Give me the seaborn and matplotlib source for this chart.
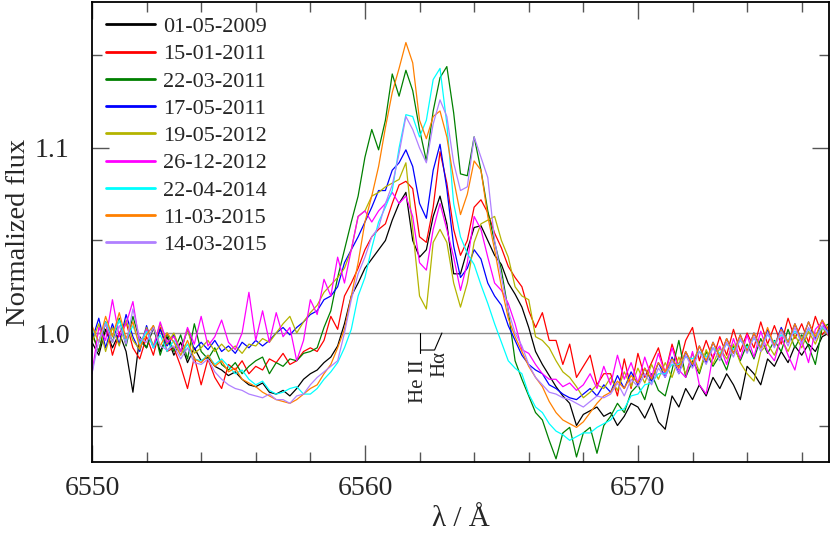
import numpy as np
import pandas as pd
import matplotlib
matplotlib.use("Agg")
import matplotlib.pyplot as plt
import seaborn as sns

# wavelength grid of the spectra (Angstrom)
wavelength = np.arange(6550.0, 6577.001, 0.25)

dates = ["01-05-2009", "15-01-2011", "22-03-2011", "17-05-2011", "19-05-2012",
         "26-12-2012", "22-04-2014", "11-03-2015", "14-03-2015"]
colors = ["#000000", "#ff0000", "#008000", "#0000ff", "#b4b400",
          "#ff00ff", "#00ffff", "#ff8000", "#b080ff"]

flux_2009_05_01 = [
    0.995, 0.988, 1.002, 0.992, 1.000, 0.990, 0.968, 0.998, 0.992, 1.003, 0.990, 0.998,
    0.988, 0.995, 0.984, 0.992, 0.985, 0.987, 0.982, 0.980, 0.977, 0.979, 0.975, 0.972,
    0.971, 0.973, 0.968, 0.967, 0.969, 0.966, 0.970, 0.975, 0.978, 0.980, 0.984, 0.987,
    0.993, 1.005, 1.020, 1.027, 1.035, 1.040, 1.045, 1.050, 1.061, 1.070, 1.076, 1.050,
    1.041, 1.045, 1.063, 1.074, 1.059, 1.032, 1.032, 1.045, 1.057, 1.058, 1.050, 1.042,
    1.037, 1.027, 1.021, 1.014, 1.003, 0.990, 0.983, 0.977, 0.971, 0.966, 0.962, 0.950,
    0.956, 0.958, 0.960, 0.955, 0.957, 0.950, 0.955, 0.962, 0.960, 0.954, 0.962, 0.952,
    0.948, 0.966, 0.960, 0.970, 0.964, 0.972, 0.966, 0.976, 0.970, 0.978, 0.972, 0.964,
    0.982, 0.978, 0.972, 0.986, 0.982, 0.990, 0.984, 0.993, 0.988, 0.994, 0.990, 0.998,
    1.000]
flux_2011_01_15 = [
    1.000, 0.990, 1.006, 0.988, 1.000, 1.006, 0.992, 0.986, 0.998, 0.988, 1.003, 0.990,
    0.992, 0.982, 0.970, 0.987, 0.972, 0.986, 0.976, 0.970, 0.983, 0.980, 0.985, 0.978,
    0.982, 0.980, 0.986, 0.984, 0.989, 0.983, 0.985, 0.990, 0.992, 0.990, 0.996, 1.009,
    1.002, 1.020, 1.027, 1.035, 1.045, 1.052, 1.056, 1.059, 1.070, 1.080, 1.082, 1.078,
    1.052, 1.049, 1.068, 1.098, 1.081, 1.056, 1.042, 1.050, 1.068, 1.072, 1.065, 1.054,
    1.046, 1.036, 1.030, 1.025, 1.012, 1.003, 1.011, 0.996, 0.996, 0.983, 0.994, 0.976,
    0.982, 0.988, 0.972, 0.978, 0.978, 0.966, 0.986, 0.970, 0.989, 0.976, 0.984, 0.992,
    0.978, 0.994, 0.982, 0.996, 1.003, 0.985, 0.996, 0.986, 0.998, 0.988, 1.002, 0.990,
    1.000, 0.992, 1.006, 0.994, 1.004, 0.994, 1.008, 0.997, 1.005, 0.995, 1.009, 0.999,
    1.004]
flux_2011_03_22 = [
    1.000, 0.990, 1.006, 0.995, 1.008, 0.993, 1.009, 0.996, 0.992, 1.004, 0.988, 1.000,
    0.990, 0.999, 0.986, 1.005, 0.990, 0.986, 0.992, 0.983, 0.980, 0.984, 0.978, 0.982,
    0.985, 0.987, 0.978, 0.984, 0.982, 0.986, 0.985, 0.989, 0.990, 0.992, 1.003, 1.012,
    1.030, 1.045, 1.060, 1.074, 1.095, 1.110, 1.099, 1.115, 1.140, 1.128, 1.142, 1.131,
    1.110, 1.093, 1.120, 1.138, 1.144, 1.119, 1.086, 1.085, 1.106, 1.088, 1.066, 1.049,
    1.034, 1.012, 0.985, 0.975, 0.966, 0.957, 0.953, 0.942, 0.932, 0.946, 0.949, 0.933,
    0.946, 0.949, 0.935, 0.950, 0.955, 0.962, 0.957, 0.968, 0.972, 0.964, 0.978, 0.969,
    0.966, 0.980, 0.996, 0.976, 0.985, 0.978, 0.990, 0.982, 0.988, 0.980, 0.993, 0.985,
    0.994, 0.986, 0.997, 0.989, 0.996, 0.990, 1.002, 0.992, 0.999, 0.993, 0.983, 1.003,
    1.005]
flux_2011_05_17 = [
    0.996, 1.008, 0.992, 1.005, 0.994, 1.010, 0.998, 0.990, 1.004, 0.992, 1.002, 0.993,
    0.999, 0.990, 1.002, 0.991, 0.995, 0.991, 0.996, 0.990, 0.993, 0.989, 0.995, 0.992,
    0.996, 0.993, 0.996, 1.000, 1.003, 0.999, 1.003, 1.006, 1.010, 1.012, 1.018, 1.020,
    1.025, 1.038, 1.045, 1.052, 1.060, 1.068, 1.077, 1.077, 1.088, 1.092, 1.099, 1.090,
    1.070, 1.062, 1.088, 1.102, 1.078, 1.047, 1.030, 1.035, 1.045, 1.040, 1.027, 1.020,
    1.015, 1.004, 0.996, 0.988, 0.983, 0.980, 0.978, 0.972, 0.970, 0.967, 0.965, 0.964,
    0.967, 0.970, 0.966, 0.972, 0.968, 0.977, 0.970, 0.979, 0.972, 0.981, 0.974, 0.984,
    0.976, 0.987, 0.978, 0.990, 0.982, 0.993, 0.984, 0.995, 0.987, 0.997, 0.989, 0.999,
    0.990, 1.000, 0.992, 1.002, 0.993, 1.003, 0.995, 1.005, 0.996, 1.006, 0.997, 1.007,
    0.999]
flux_2012_05_19 = [
    0.995, 1.005, 0.990, 1.003, 0.993, 1.007, 0.996, 0.991, 1.003, 0.993, 1.005, 0.994,
    1.000, 0.990, 1.002, 0.989, 0.992, 0.996, 0.990, 0.994, 0.990, 0.993, 0.989, 0.994,
    0.993, 0.997, 0.995, 1.000, 1.005, 1.009, 1.000, 1.006, 1.011, 1.015, 1.022, 1.026,
    1.030, 1.035, 1.045, 1.063, 1.066, 1.074, 1.076, 1.079, 1.081, 1.083, 1.092, 1.056,
    1.020, 1.013, 1.049, 1.056, 1.049, 1.027, 1.014, 1.027, 1.049, 1.059, 1.061, 1.063,
    1.050, 1.041, 1.025, 1.020, 1.018, 0.998, 0.996, 0.992, 0.985, 0.979, 0.976, 0.971,
    0.965, 0.968, 0.972, 0.970, 0.976, 0.969, 0.979, 0.971, 0.981, 0.973, 0.983, 0.975,
    0.984, 0.976, 0.987, 0.978, 0.989, 0.979, 0.991, 0.983, 0.992, 0.986, 0.994, 0.984,
    0.978, 0.974, 0.990, 0.994, 0.988, 0.997, 0.990, 0.999, 0.992, 1.001, 0.994, 1.003,
    0.998]
flux_2012_12_26 = [
    0.978, 1.003, 0.996, 1.018, 0.998, 1.005, 1.017, 0.994, 1.002, 0.992, 1.006, 0.995,
    0.998, 0.990, 1.003, 0.994, 1.009, 0.993, 0.998, 1.007, 0.995, 0.991, 1.000, 1.022,
    0.996, 1.012, 0.995, 1.011, 0.998, 1.003, 0.985, 0.996, 1.018, 1.010, 1.029, 1.020,
    1.041, 1.027, 1.045, 1.063, 1.066, 1.060, 1.066, 1.070, 1.076, 1.070, 1.074, 1.063,
    1.038, 1.034, 1.056, 1.070, 1.056, 1.041, 1.023, 1.038, 1.063, 1.056, 1.041, 1.027,
    1.023, 1.016, 1.005, 0.991, 0.989, 0.983, 0.978, 0.975, 0.975, 0.971, 0.973, 0.969,
    0.972, 0.978, 0.970, 0.982, 0.972, 0.988, 0.975, 0.984, 0.973, 0.987, 0.976, 0.989,
    0.978, 0.992, 0.980, 0.976, 0.990, 0.972, 0.967, 0.988, 0.993, 0.983, 0.997, 0.986,
    0.999, 0.987, 1.001, 0.990, 0.985, 0.998, 0.988, 0.980, 0.996, 0.984, 1.002, 1.006,
    0.998]
flux_2014_04_22 = [
    1.003, 0.995, 1.006, 0.998, 1.007, 0.996, 1.004, 0.994, 1.001, 0.992, 0.999, 0.990,
    0.996, 0.988, 0.994, 0.986, 0.985, 0.988, 0.983, 0.986, 0.982, 0.978, 0.980, 0.975,
    0.972, 0.974, 0.969, 0.967, 0.968, 0.970, 0.971, 0.967, 0.967, 0.970, 0.975, 0.979,
    0.984, 0.992, 1.002, 1.020, 1.030, 1.046, 1.060, 1.068, 1.077, 1.100, 1.118, 1.117,
    1.106, 1.115, 1.137, 1.143, 1.113, 1.070, 1.052, 1.043, 1.037, 1.026, 1.016, 1.005,
    0.995, 0.985, 0.981, 0.978, 0.967, 0.960, 0.957, 0.951, 0.947, 0.945, 0.942, 0.944,
    0.946, 0.946, 0.949, 0.951, 0.953, 0.958, 0.959, 0.966, 0.967, 0.972, 0.973, 0.978,
    0.978, 0.983, 0.983, 0.987, 0.986, 0.990, 0.987, 0.992, 0.989, 0.994, 0.991, 0.996,
    0.992, 0.997, 0.993, 0.999, 0.995, 0.999, 0.996, 1.001, 0.997, 1.002, 0.998, 1.003,
    1.000]
flux_2015_03_11 = [
    1.004, 0.995, 1.009, 0.998, 1.011, 0.997, 1.006, 0.992, 0.999, 1.004, 0.993, 1.000,
    0.995, 0.988, 0.996, 0.986, 0.984, 0.988, 0.982, 0.985, 0.979, 0.981, 0.975, 0.973,
    0.971, 0.968, 0.966, 0.964, 0.963, 0.962, 0.964, 0.967, 0.970, 0.972, 0.978, 0.983,
    0.992, 1.002, 1.020, 1.038, 1.060, 1.074, 1.090, 1.111, 1.130, 1.143, 1.157, 1.146,
    1.115, 1.105, 1.117, 1.120, 1.106, 1.083, 1.064, 1.075, 1.093, 1.088, 1.063, 1.045,
    1.025, 1.008, 0.998, 0.990, 0.982, 0.976, 0.971, 0.963, 0.957, 0.953, 0.951, 0.949,
    0.952, 0.957, 0.962, 0.966, 0.968, 0.974, 0.970, 0.977, 0.973, 0.981, 0.975, 0.984,
    0.979, 0.986, 0.981, 0.990, 0.983, 0.993, 0.985, 0.995, 0.987, 0.997, 0.989, 0.999,
    0.990, 1.000, 0.992, 1.003, 0.993, 1.002, 0.995, 1.005, 0.996, 1.006, 0.998, 1.007,
    1.001]
flux_2015_03_14 = [
    0.978, 0.996, 1.005, 0.995, 1.004, 0.994, 1.013, 0.997, 0.995, 1.003, 0.993, 0.991,
    0.993, 0.986, 0.992, 0.984, 0.983, 0.986, 0.979, 0.975, 0.972, 0.970, 0.969, 0.967,
    0.966, 0.965, 0.967, 0.964, 0.964, 0.962, 0.966, 0.967, 0.972, 0.976, 0.979, 0.982,
    0.985, 1.000, 1.018, 1.032, 1.041, 1.052, 1.057, 1.070, 1.080, 1.097, 1.117, 1.110,
    1.100, 1.092, 1.113, 1.126, 1.117, 1.092, 1.077, 1.079, 1.106, 1.095, 1.084, 1.050,
    1.030, 1.012, 1.000, 0.993, 0.983, 0.976, 0.972, 0.968, 0.967, 0.965, 0.964, 0.962,
    0.960, 0.963, 0.966, 0.965, 0.967, 0.973, 0.966, 0.975, 0.971, 0.978, 0.972, 0.981,
    0.976, 0.985, 0.978, 0.988, 0.981, 0.990, 0.983, 0.992, 0.985, 0.995, 0.987, 0.997,
    0.989, 0.998, 0.990, 1.000, 0.992, 1.001, 0.993, 1.003, 0.994, 1.003, 0.996, 1.004,
    0.999]

series = [flux_2009_05_01, flux_2011_01_15, flux_2011_03_22, flux_2011_05_17,
          flux_2012_05_19, flux_2012_12_26, flux_2014_04_22, flux_2015_03_11,
          flux_2015_03_14]

frames = []
for d, f in zip(dates, series):
    frames.append(pd.DataFrame({"wavelength": wavelength, "flux": f, "date": d}))
df = pd.concat(frames, ignore_index=True)

sns.set_theme(style="ticks")
plt.rcParams["font.family"] = ["Liberation Serif", "DejaVu Serif"]

fig = plt.figure(figsize=(8.3, 5.38), dpi=100)
ax = fig.add_axes([0.1108, 0.1413, 0.888, 0.8550])

ax.axhline(1.0, color="#8c8c8c", lw=1.0, zorder=1)

sns.lineplot(data=df, x="wavelength", y="flux", hue="date", hue_order=dates,
             palette=colors, lw=0.9, estimator=None, sort=False, ax=ax, zorder=2)

# line identifications
ax.plot([6562.0, 6562.0], [1.0, 0.9892], color="black", lw=0.8)
ax.plot([6562.82, 6562.55, 6562.05], [1.0, 0.9908, 0.9908], color="black", lw=0.8)
ax.text(6561.98, 0.9858, "He II", rotation=90, ha="center", va="top", fontsize=15)
ax.text(6562.76, 0.9905, "H\u03b1", rotation=90, ha="center", va="top", fontsize=15)

ax.set_xlim(6550, 6577)
ax.set_ylim(0.9303, 1.1789)
ax.set_xticks([6550, 6560, 6570])
ax.set_xticks(np.arange(6552, 6577, 2), minor=True)
ax.set_yticks([1.0, 1.1])
ax.set_yticklabels(["1.0", "1.1"])
ax.set_yticks([0.95, 1.05, 1.15], minor=True)
ax.tick_params(which="both", direction="in", top=True, right=True,
               color="#555555", labelsize=20)
ax.tick_params(which="major", length=12, width=1.0)
ax.tick_params(which="minor", length=7, width=1.0)
ax.tick_params(axis="x", pad=10)
ax.tick_params(axis="y", pad=16)
for s in ax.spines.values():
    s.set_color("black")
    s.set_linewidth(1.3)

ax.set_xlabel("\u03bb / \u00c5", fontsize=21, labelpad=4)
ax.set_ylabel("Normalized flux", fontsize=20.5, labelpad=3)

handles, labels = ax.get_legend_handles_labels()
leg = ax.legend(handles, labels, loc="upper left", bbox_to_anchor=(0.0190, 0.968),
                frameon=False, fontsize=16, handlelength=2.2, handletextpad=0.35,
                labelspacing=0.3, borderpad=0, borderaxespad=0)
for line in leg.get_lines():
    line.set_linewidth(2.0)

fig.savefig("out.png", dpi=100)
